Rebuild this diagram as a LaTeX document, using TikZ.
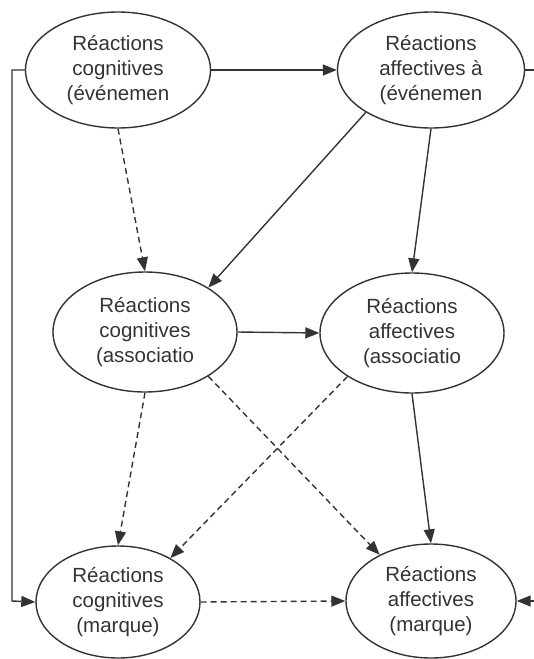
\documentclass[tikz,border=0pt]{standalone}
\usepackage{fontspec}
\setmainfont{Liberation Sans}
\usetikzlibrary{shapes.geometric,arrows.meta}
\definecolor{ink}{HTML}{333333}
\begin{document}
\begin{tikzpicture}[x=1pt,y=-1pt,
  ell/.style={ellipse,draw=ink,line width=1.4pt,inner sep=0pt,align=center,
    text=ink,font=\fontsize{20.5}{25}\selectfont},
  conn/.style={draw=ink,line width=1.4pt,-{Triangle[length=14pt,width=11pt]}},
  dconn/.style={conn,dash pattern=on 6pt off 4pt},
  plain/.style={draw=ink,line width=1.4pt}]
\useasboundingbox (0,0) rectangle (534,659);
\node[ell,minimum width=185pt,minimum height=116pt] (e1) at (118,70) {Réactions\\cognitives\\(événemen};
\node[ell,minimum width=187pt,minimum height=116pt] (e2) at (431,70) {Réactions\\affectives à\\(événemen};
\node[ell,minimum width=184pt,minimum height=120pt] (e3) at (145,332) {Réactions\\cognitives\\(associatio};
\node[ell,minimum width=184pt,minimum height=120pt] (e4) at (412,333) {Réactions\\affectives\\(associatio};
\node[ell,minimum width=164pt,minimum height=112pt] (e5) at (118,602) {Réactions\\cognitives\\(marque)};
\node[ell,minimum width=170pt,minimum height=114pt] (e6) at (431,601) {Réactions\\affectives\\(marque)};
\coordinate (rtop) at (534,70);
\coordinate (rbot) at (534,601);
\coordinate (ltop) at (12,70);
\coordinate (lbot) at (12,601);
% connectors
\draw[conn] (e1.east) -- (e2.west);
\draw[dconn] (e1.south) -- (e3.north);
\draw[conn] (e2.213) -- (e3.35);
\draw[conn] (e2.south) -- (e4.north);
\draw[conn] (e3.east) -- (e4.west);
\draw[dconn] (e3.south) -- (e5.north);
\draw[dconn] (e3.325) -- (e6.138);
\draw[dconn] (e4.214) -- (e5.40);
\draw[conn] (e4.south) -- (e6.north);
\draw[dconn] (e5.east) -- (e6.west);
\draw[plain] (e2.east) -- (rtop);
\draw[conn] (rbot) -- (e6.east);
\draw[conn] (e1.west) -- (ltop) -- (lbot) -- (e5.west);
\end{tikzpicture}
\end{document}
